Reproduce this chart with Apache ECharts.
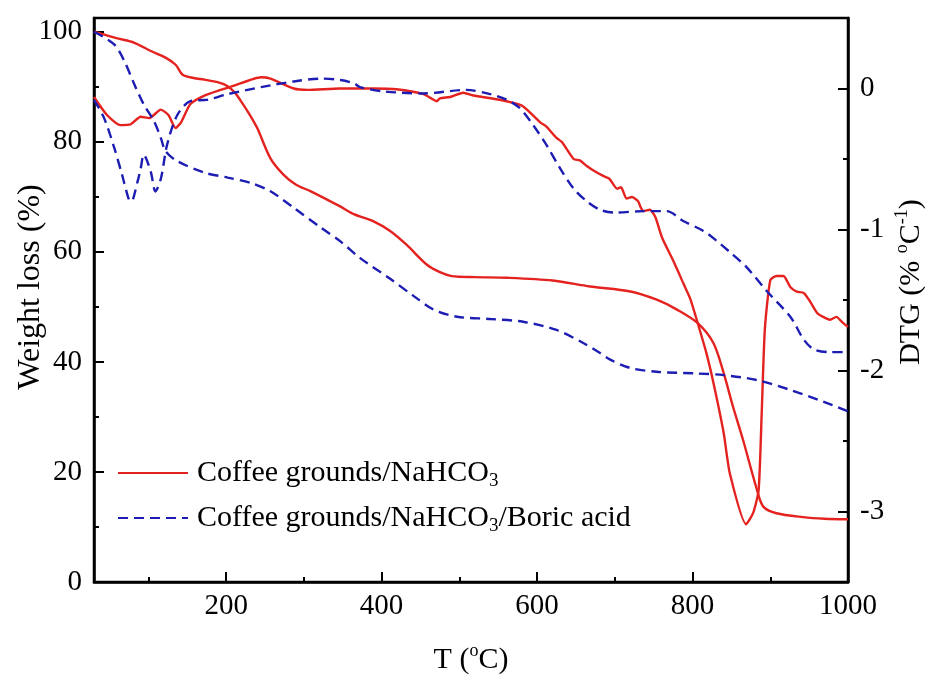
<!DOCTYPE html>
<html>
<head>
<meta charset="utf-8">
<script src="https://cdn.jsdelivr.net/npm/echarts@6/dist/echarts.min.js"></script>
<style>
  html, body { margin: 0; padding: 0; background: #fff; }
  #chart { width: 931px; height: 677px; }
</style>
</head>
<body>
<div id="chart"></div>
<script>
// TG / DTG curves (T in degC)
const redTgT = [30, 40, 60, 82, 103, 122, 135, 144, 158, 172, 190, 202, 212, 219, 230, 240, 257, 274, 290, 309, 346, 365, 389, 411, 432, 458, 475, 490, 520, 561, 620, 668, 720, 754, 780, 807, 827, 840, 852, 865, 883, 891, 908, 942, 970, 1000];
const redTgW = [100, 99.6, 98.8, 98, 96.5, 95.3, 94, 92.2, 91.6, 91.3, 90.8, 90.1, 88.8, 87.4, 85, 82.5, 77, 74, 72.2, 71, 68.3, 66.8, 65.6, 63.8, 61.3, 57.7, 56.3, 55.6, 55.4, 55.3, 54.8, 53.7, 52.8, 51.3, 49.5, 47, 43.4, 38, 31.9, 25.8, 16.7, 13.7, 12.5, 11.8, 11.5, 11.4];

const redDtgT = [30, 47, 64, 77, 90, 101, 116, 126, 135, 142, 154, 172, 193, 210, 245, 257, 287, 305, 346, 389, 419, 454, 471, 475, 488, 505, 518, 552, 580, 587, 604, 612, 625, 632, 647, 655, 664, 672, 685, 693, 703, 708, 715, 722, 730, 733, 737, 745, 752, 761, 776, 788, 797, 807, 818, 827, 840, 848, 869, 878, 885, 889, 893, 900, 908, 917, 926, 934, 943, 950, 960, 968, 977, 985, 993, 1000];
const redDtgD = [-0.06, -0.19, -0.26, -0.255, -0.2, -0.21, -0.15, -0.19, -0.28, -0.24, -0.11, -0.05, -0.01, 0.02, 0.08, 0.07, 0.0, -0.01, 0.0, 0.0, -0.005, -0.04, -0.09, -0.07, -0.06, -0.03, -0.05, -0.08, -0.12, -0.15, -0.24, -0.27, -0.35, -0.38, -0.5, -0.51, -0.55, -0.58, -0.62, -0.64, -0.71, -0.7, -0.78, -0.77, -0.8, -0.84, -0.87, -0.86, -0.91, -1.06, -1.23, -1.38, -1.49, -1.67, -1.88, -2.09, -2.44, -2.73, -3.09, -3.01, -2.85, -2.3, -1.71, -1.36, -1.33, -1.33, -1.41, -1.44, -1.45, -1.5, -1.59, -1.62, -1.64, -1.62, -1.66, -1.69];

const blueTgT = [30, 56, 69, 82, 94, 107, 116, 122, 137, 172, 202, 232, 257, 287, 322, 347, 372, 411, 441, 467, 497, 540, 582, 625, 660, 681, 694, 720, 754, 805, 840, 883, 926, 968, 1000];
const blueTgW = [100, 97.7, 94.7, 90.4, 86.8, 83.8, 80.7, 78.3, 76.5, 74.4, 73.5, 72.5, 71, 68, 64.4, 61.9, 58.9, 55.1, 52, 49.5, 48.2, 47.8, 47.3, 45.8, 43.4, 41.6, 40.4, 38.9, 38.2, 37.9, 37.6, 36.7, 34.9, 32.8, 31];

const blueDtgT = [30, 43, 56, 66, 75, 78, 86, 90, 94, 103, 109, 116, 124, 137, 154, 176, 202, 245, 287, 322, 347, 365, 372, 402, 454, 509, 540, 561, 578, 595, 612, 630, 647, 664, 681, 700, 737, 767, 788, 814, 831, 848, 870, 896, 926, 943, 956, 977, 1000];
const blueDtgD = [-0.08, -0.21, -0.42, -0.61, -0.79, -0.8, -0.66, -0.57, -0.47, -0.59, -0.73, -0.64, -0.4, -0.19, -0.09, -0.08, -0.04, 0.01, 0.05, 0.07, 0.06, 0.035, 0.01, -0.02, -0.035, -0.01, -0.04, -0.08, -0.14, -0.26, -0.4, -0.57, -0.71, -0.8, -0.86, -0.88, -0.87, -0.87, -0.94, -1.01, -1.08, -1.16, -1.27, -1.44, -1.62, -1.78, -1.85, -1.87, -1.87];

const xLabels = [200, 400, 600, 800, 1000];
const xMinor = [100, 300, 500, 700, 900];
const leftLabels = [0, 20, 40, 60, 80, 100];
const leftMinor = [10, 30, 50, 70, 90];
const rightLabels = [-3, -2, -1, 0];
const rightMinor = [-2.5, -1.5, -0.5];

const nameA = 'Coffee grounds/NaHCO3';
const nameB = 'Coffee grounds/NaHCO3/Boric acid';

const RED = '#e4221f';
const BLUE = '#1d1db4';
const FONT = '"Liberation Serif", "Times New Roman", serif';

function zip(xs, ys) {
    return xs.map((x, i) => [x, ys[i]]);
}

const chart = echarts.init(document.getElementById('chart'));

const axisLine = { show: true, onZero: false, lineStyle: { color: '#000', width: 2.5 } };
const labelStyle = { color: '#000', fontFamily: FONT, fontSize: 29, formatter: (v) => String(v) };
const tickStyle = { color: '#000', width: 2 };

const minorAxis = (extra) => Object.assign({
    type: 'value',
    axisLine: { show: false, onZero: false },
    axisLabel: { show: false },
    splitLine: { show: false }
}, extra);

const supRich = {
    n: { fontFamily: FONT, fontSize: 30, color: '#000', lineHeight: 36, verticalAlign: 'middle' },
    p: { fontFamily: FONT, fontSize: 18, color: '#000', lineHeight: 36, verticalAlign: 'top' }
};

chart.setOption({
    backgroundColor: '#fff',
    animation: false,
    grid: {
        left: 94, right: 83, top: 18, bottom: 95,
        containLabel: false,
        outerBoundsMode: 'none',
        show: true, borderColor: '#000', borderWidth: 2.5
    },
    legend: {
        orient: 'vertical',
        left: 117,
        top: 458,
        padding: 0,
        itemWidth: 70,
        itemHeight: 14,
        itemGap: 12,
        itemStyle: { opacity: 0 },
        data: [nameA, nameB],
        formatter: function (n) {
            if (n === nameA) return '{t|Coffee grounds/NaHCO}{s|3}';
            return '{t|Coffee grounds/NaHCO}{s|3}{t|/Boric acid}';
        },
        textStyle: {
            padding: [0, 0, 0, 4],
            rich: {
                t: { fontFamily: FONT, fontSize: 30, color: '#000', lineHeight: 36, verticalAlign: 'middle' },
                s: { fontFamily: FONT, fontSize: 19, color: '#000', lineHeight: 36, verticalAlign: 'bottom' }
            }
        }
    },
    xAxis: [
        {
            type: 'value', min: 30, max: 1000,
            axisLine: axisLine,
            axisTick: { show: true, inside: true, length: 10, lineStyle: tickStyle, customValues: xLabels },
            axisLabel: Object.assign({ margin: 10, customValues: xLabels }, labelStyle),
            splitLine: { show: false },
            name: '{n|T (}{p|o}{n|C)}',
            nameLocation: 'middle',
            nameGap: 60,
            nameMoveOverlap: false,
            nameTextStyle: { rich: supRich }
        },
        minorAxis({
            min: 30, max: 1000, position: 'bottom',
            axisTick: { show: true, inside: true, length: 5, lineStyle: tickStyle, customValues: xMinor }
        })
    ],
    yAxis: [
        {
            type: 'value', min: 0, max: 102.5, position: 'left',
            axisLine: axisLine,
            axisTick: { show: true, inside: true, length: 10, lineStyle: tickStyle, customValues: leftLabels },
            axisLabel: Object.assign({ margin: 12, customValues: leftLabels }, labelStyle),
            splitLine: { show: false },
            name: 'Weight loss (%)',
            nameLocation: 'middle',
            nameRotate: 90,
            nameGap: 47,
            nameMoveOverlap: false,
            nameTextStyle: { fontFamily: FONT, fontSize: 32, color: '#000', padding: [0, 0, 0, 26] }
        },
        {
            type: 'value', min: -3.5, max: 0.5, position: 'right',
            axisLine: axisLine,
            axisTick: { show: true, inside: true, length: 10, lineStyle: tickStyle, customValues: rightLabels },
            axisLabel: Object.assign({ margin: 12, customValues: rightLabels }, labelStyle),
            splitLine: { show: false },
            name: '{n|DTG (% }{p|o}{n|C}{p|-1}{n|)}',
            nameLocation: 'middle',
            nameRotate: 90,
            nameGap: 45,
            nameMoveOverlap: false,
            nameTextStyle: { rich: supRich, padding: [0, 0, 0, 36] }
        },
        minorAxis({
            min: 0, max: 102.5, position: 'left',
            axisTick: { show: true, inside: true, length: 5, lineStyle: tickStyle, customValues: leftMinor }
        }),
        minorAxis({
            min: -3.5, max: 0.5, position: 'right',
            axisTick: { show: true, inside: true, length: 5, lineStyle: tickStyle, customValues: rightMinor }
        })
    ],
    series: [
        {
            name: nameA, type: 'line', xAxisIndex: 0, yAxisIndex: 0,
            data: zip(redTgT, redTgW), showSymbol: false, symbol: 'none', smooth: 0.3,
            lineStyle: { color: RED, width: 2.4 }, itemStyle: { color: RED }
        },
        {
            name: nameA, type: 'line', xAxisIndex: 0, yAxisIndex: 1,
            data: zip(redDtgT, redDtgD), showSymbol: false, symbol: 'none', smooth: 0.2,
            lineStyle: { color: RED, width: 2.4 }, itemStyle: { color: RED }
        },
        {
            name: nameB, type: 'line', xAxisIndex: 0, yAxisIndex: 0,
            data: zip(blueTgT, blueTgW), showSymbol: false, symbol: 'none', smooth: 0.3,
            lineStyle: { color: BLUE, width: 2.4, type: [10, 6] }, itemStyle: { color: BLUE }
        },
        {
            name: nameB, type: 'line', xAxisIndex: 0, yAxisIndex: 1,
            data: zip(blueDtgT, blueDtgD), showSymbol: false, symbol: 'none', smooth: 0.3,
            lineStyle: { color: BLUE, width: 2.4, type: [10, 6] }, itemStyle: { color: BLUE }
        }
    ]
});
</script>
</body>
</html>
